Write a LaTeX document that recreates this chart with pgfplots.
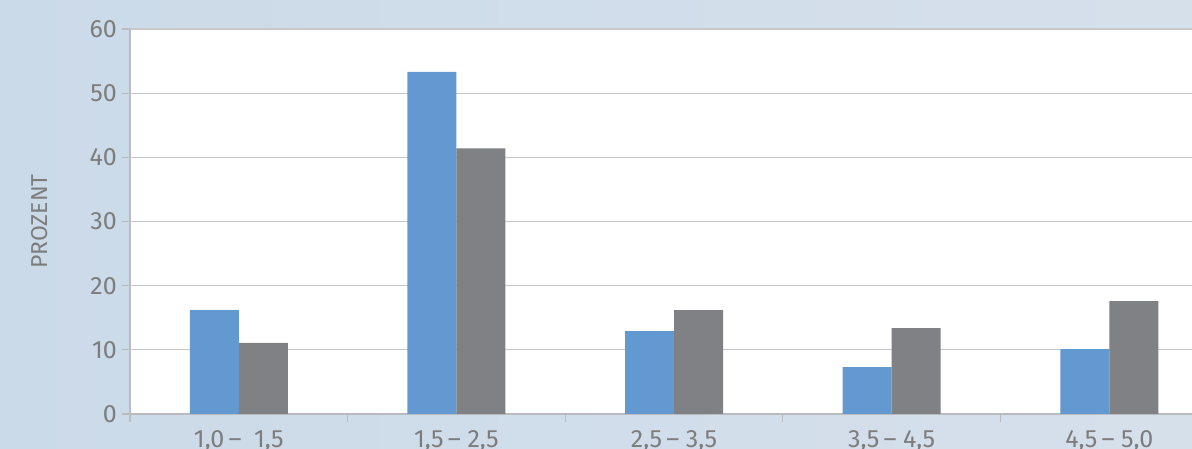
\documentclass[border=0pt]{standalone}
\usepackage{pgfplots}
\pgfplotsset{compat=1.18}
\usepackage{fontspec}
\setmainfont{Fira Sans}
\definecolor{barblue}{RGB}{99,153,209}
\definecolor{bargrey}{RGB}{128,129,133}
\definecolor{txtgrey}{RGB}{125,125,125}
\definecolor{gridgrey}{RGB}{200,200,200}
\definecolor{axgrey}{RGB}{185,187,190}
\definecolor{bgL}{RGB}{203,218,233}
\definecolor{bgM}{RGB}{234,240,246}
\definecolor{bgR}{RGB}{214,224,235}
\begin{document}
\begin{tikzpicture}
\useasboundingbox (0,0) rectangle (1192pt,449pt);
\shade[left color=bgL, middle color=bgM, right color=bgR] (0,0) rectangle (1192pt,449pt);
\begin{axis}[
  at={(130pt,35pt)}, anchor=south west,
  scale only axis, width=1062pt, height=385pt,
  xmin=-0.5, xmax=4.38, ymin=0, ymax=60,
  ybar=0pt, bar width=49pt,
  axis background/.style={fill=white},
  axis x line*=bottom, axis y line*=left,
  axis line style={axgrey, line width=1.2pt},
  ymajorgrids, grid style={gridgrey, line width=1.3pt},
  ytick={0,10,...,60},
  xtick={0,1,2,3,4},
  xticklabels={{1,0\,–\enspace1,5},{1,5\,–\ 2,5},{2,5\,–\ 3,5},{3,5\,–\ 4,5},{4,5\,–\ 5,0}},
  tick align=outside,
  major tick length=8pt,
  x tick style={draw=none},
  y tick style={axgrey, line width=1.2pt},
  extra x ticks={-0.5,0.5,1.5,2.5,3.5},
  extra x tick labels={},
  extra x tick style={grid=none, x tick style={draw=axgrey, line width=1.2pt}, major tick length=8pt},
  /pgf/number format/assume math mode=true,
  tick label style={font=\fontsize{25}{27}\selectfont, text=txtgrey},
  yticklabel style={inner sep=0pt, xshift=-5pt},
  xticklabel style={inner sep=0pt, yshift=-8pt},
  ylabel={PROZENT},
  ylabel style={at={(axis description cs:-0.0847,0.5)}, anchor=center, font=\fontsize{23}{25}\selectfont, text=txtgrey},
  clip=true,
]
\addplot[fill=barblue, draw=none] coordinates {(0,16.2) (1,53.3) (2,12.9) (3,7.3) (4,10.1)};
\addplot[fill=bargrey, draw=none] coordinates {(0,11.1) (1,41.4) (2,16.2) (3,13.4) (4,17.6)};
\end{axis}
\end{tikzpicture}
\end{document}
